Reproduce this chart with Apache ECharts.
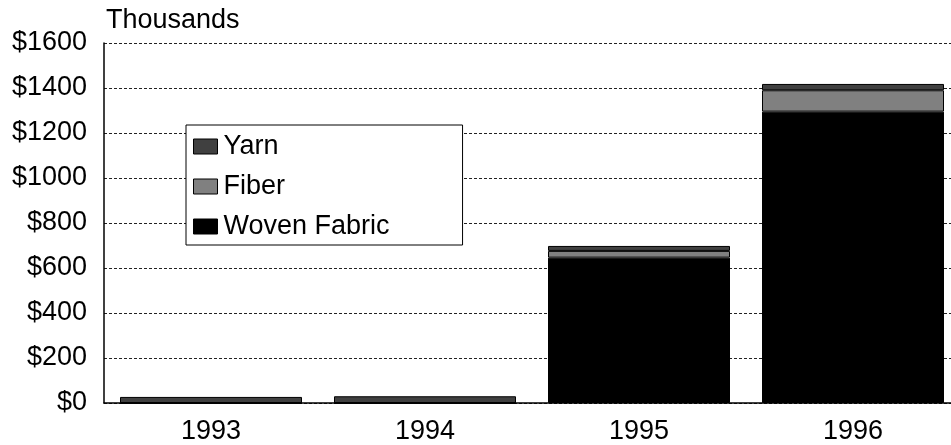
<!DOCTYPE html>
<html>
<head>
<meta charset="utf-8">
<script src="https://cdn.jsdelivr.net/npm/echarts@6/dist/echarts.min.js"></script>
<style>html,body{margin:0;padding:0;background:#fff;overflow:hidden;}#c{width:960px;height:445px;}</style>
</head>
<body>
<div id="c"></div>
<script>
const categories = ['1993', '1994', '1995', '1996'];
const wovenFabric = [0, 0, 646, 1295];
const fiber = [0, 0, 30, 95];
const yarn = [27, 30, 22, 28];
const yTicks = [0, 200, 400, 600, 800, 1000, 1200, 1400, 1600];

const FONT = '"Liberation Sans", Arial, sans-serif';
const chart = echarts.init(document.getElementById('c'));
const mk = (name, data, color) => ({
  name, type: 'bar', stack: 'total', data, barWidth: 182,
  itemStyle: { color, borderColor: '#000', borderWidth: 1 },
  emphasis: { disabled: true }, animation: false
});
chart.setOption({
  animation: false,
  backgroundColor: '#fff',
  grid: { left: 104, top: 43, right: 0, height: 360, containLabel: false },
  graphic: [{
    type: 'text', left: 106, top: 7,
    style: { text: 'Thousands', font: '27px ' + FONT, fill: '#000' }
  }],
  legend: {
    orient: 'vertical', left: 186, top: 125,
    data: ['Yarn', 'Fiber', 'Woven Fabric'],
    itemWidth: 24, itemHeight: 15, itemGap: 13,
    padding: [8, 73, 5, 7],
    borderColor: '#000', borderWidth: 1, backgroundColor: '#fff',
    textStyle: { fontSize: 27, fontFamily: FONT, color: '#000', padding: [0, 0, 0, 1] },
    icon: 'rect',
    itemStyle: { borderColor: '#000', borderWidth: 1 },
    selectedMode: false
  },
  xAxis: {
    type: 'category', data: categories,
    axisLine: { lineStyle: { color: '#000', width: 1.5 } },
    axisTick: { show: false },
    axisLabel: { fontSize: 27, fontFamily: FONT, color: '#000', margin: 15 }
  },
  yAxis: {
    type: 'value', min: 0, max: 1600, interval: 200,
    axisLine: { show: true, lineStyle: { color: '#000', width: 1.5 } },
    axisTick: { show: false },
    axisLabel: {
      fontSize: 27, fontFamily: FONT, color: '#000', margin: 17,
      formatter: v => yTicks.includes(v) ? '$' + v : ''
    },
    splitLine: { lineStyle: { color: '#222', type: [3, 2], width: 1 } }
  },
  series: [
    mk('Woven Fabric', wovenFabric, '#000000'),
    mk('Fiber', fiber, '#808080'),
    mk('Yarn', yarn, '#404040')
  ]
});
</script>
</body>
</html>
